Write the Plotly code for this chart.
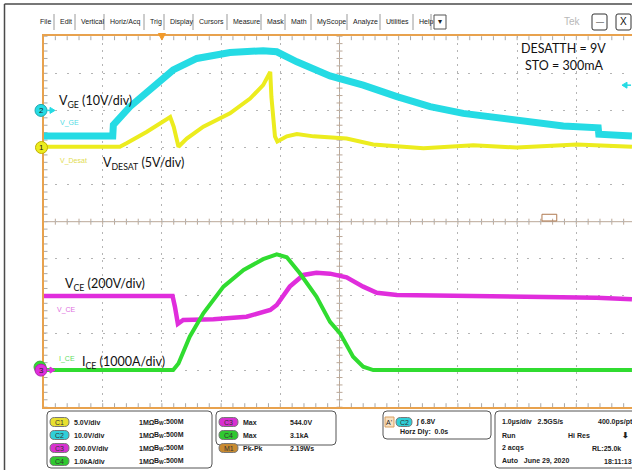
import plotly.graph_objects as go

# ---------------- data ----------------
# time axis in microseconds, relative to the trigger point
t_vge = [-2.0, -0.83, -0.82, -0.54, 0.19, 0.59, 1.15, 1.71, 1.94, 2.28, 2.84, 3.40, 3.97, 4.53,
         5.09, 5.66, 6.22, 6.78, 7.37, 7.38, 7.94]
v_vge = [-6.9, -6.9, -3.9, 1.0, 10.9, 14.0, 15.6, 16.1, 15.8, 13.1, 9.3, 6.8, 3.7, 1.0,
         -0.8, -2.1, -3.3, -4.2, -4.7, -6.4, -6.9]

t_desat = [-2.0, -0.71, -0.59, -0.26, 0.14, 0.20, 0.28, 0.42, 0.70, 1.15, 1.49, 1.71, 1.83, 1.85,
           1.91, 1.95, 2.11, 2.28, 2.56, 2.84, 3.12, 3.57, 4.42, 5.26, 5.99, 7.01, 7.94]
v_desat = [0.1, 0.1, 0.6, 2.1, 4.1, 2.8, 0.1, 1.2, 2.8, 4.6, 6.6, 8.4, 10.2, 6.8,
           1.5, 0.8, 1.5, 1.8, 1.5, 1.4, 1.2, 0.4, -0.1, 0.3, 0.0, 0.4, 0.1]

t_vce = [-2.0, 0.18, 0.22, 0.27, 0.36, 0.87, 1.43, 1.83, 1.94, 2.16, 2.39, 2.61, 2.84, 3.12,
         3.40, 3.63, 3.97, 5.66, 7.34, 7.94]
v_vce = [400, 400, 342, 249, 270, 274, 288, 324, 351, 450, 513, 525, 520, 500,
         450, 417, 405, 400, 390, 382]

t_ice = [-2.0, 0.19, 0.28, 0.47, 0.70, 1.04, 1.38, 1.71, 1.94, 2.11, 2.33, 2.61, 2.84, 3.01,
         3.23, 3.40, 3.57, 7.94]
i_ice = [0, 0, 180, 900, 1530, 2250, 2700, 2990, 3120, 3040, 2610, 1980, 1300, 990,
         360, 90, 0, 0]

# channel settings: C1 V_DESAT, C2 V_GE, C3 V_CE, C4 I_CE
ch_names = ["V_Desat", "V_GE", "V_CE", "I_CE"]
ch_scale = [5.0, 10.0, 200.0, 1000.0]      # units per division
ch_offset = [2, 3, -4, -4]                 # ground position in divisions
trig_level_c2 = 6.8

menu_items = ["File", "Edit", "Vertical", "Horiz/Acq", "Trig", "Display", "Cursors", "Measure",
              "Mask", "Math", "MyScope", "Analyze", "Utilities", "Help"]

# ---------------- geometry ----------------
W, H = 632, 470
PX_LEFT, DIVX = 43.5, 59.2
CY, DIVY = 221.7, 37.1
PX_TOP, PX_BOT = CY - 5 * DIVY, CY + 5 * DIVY

def px(x):
    return x / W

def py(y):
    return 1 - y / H

def tpx(t):
    return PX_LEFT + (t + 2) * DIVX

def dpy(d):
    return CY - d * DIVY

def chpy(k, v):
    return dpy(v / ch_scale[k] + ch_offset[k])

ORANGE = "#e8a24e"
CYAN = "#25dbe4"
YELLOW = "#ecec1e"
MAGENTA = "#e02ddc"
GREEN = "#30dc30"
GRID = "#b4b4b4"
TICK = "#a8a8a8"
CROSS = "#bba898"
colors = [YELLOW, CYAN, MAGENTA, GREEN]
label_colors = ["#e2dc50", "#50dbe4", "#e070e0", "#60dc60"]

x_range = [-2, -2 + (W - PX_LEFT) / DIVX]
y_dom = [py(PX_BOT), py(PX_TOP)]
x_dom = [px(PX_LEFT), 1.0]

fig = go.Figure()

series = [(t_desat, v_desat), (t_vge, v_vge), (t_vce, v_vce), (t_ice, i_ice)]
widths = [4, 7, 4.5, 4]
for k, (tt, vv) in enumerate(series):
    fig.add_trace(go.Scatter(x=tt, y=vv, mode="lines", yaxis="y%d" % (k + 2),
                             line=dict(color=colors[k], width=widths[k]),
                             hoverinfo="skip", showlegend=False))

layout = dict(
    width=W, height=H, margin=dict(l=0, r=0, t=0, b=0),
    paper_bgcolor="white", plot_bgcolor="white", showlegend=False,
    xaxis=dict(domain=x_dom, range=x_range, tick0=0, dtick=1, showgrid=True,
               gridcolor=GRID, griddash="2px,5px", gridwidth=1, zeroline=False,
               showline=True, linecolor=ORANGE, linewidth=2, mirror=True,
               ticks="", showticklabels=False),
    yaxis=dict(domain=y_dom, range=[-5, 5], tick0=0, dtick=1, showgrid=True,
               gridcolor=GRID, griddash="2px,9.8px", gridwidth=1, zeroline=False,
               showline=True, linecolor=ORANGE, linewidth=2,
               ticks="", showticklabels=False),
)
for k in range(4):
    lo = (-5 - ch_offset[k]) * ch_scale[k]
    hi = (5 - ch_offset[k]) * ch_scale[k]
    layout["yaxis%d" % (k + 2)] = dict(overlaying="y", anchor="x", range=[lo, hi],
                                       showgrid=False, zeroline=False, showline=False,
                                       showticklabels=False, ticks="")
fig.update_layout(**layout)

shapes = []
ann = []

def L(x0, y0, x1, y1, color, width=1, layer="below"):
    shapes.append(dict(type="line", xref="paper", yref="paper", x0=px(x0), x1=px(x1),
                       y0=py(y0), y1=py(y1), line=dict(color=color, width=width), layer=layer))

def tri(points, color):
    p = "M " + " L ".join("%f,%f" % (px(a), py(b)) for a, b in points) + " Z"
    shapes.append(dict(type="path", xref="paper", yref="paper", path=p, fillcolor=color,
                       line=dict(color=color, width=1)))

# graticule ticks: border (inside) and centre crosshair
n_x = int(round((x_range[1] - x_range[0]) / 0.2))
for i in range(n_x + 1):
    xx = tpx(x_range[0] + 0.2 * i)
    if xx > W:
        break
    L(xx, PX_TOP, xx, PX_TOP + 4, TICK)
    L(xx, PX_BOT, xx, PX_BOT - 4, TICK)
    L(xx, CY - 3, xx, CY + 3, CROSS)
for i in range(51):
    yy = dpy(-5 + 0.2 * i)
    L(PX_LEFT, yy, PX_LEFT + 4, yy, TICK)
    L(tpx(3) - 3, yy, tpx(3) + 3, yy, CROSS)
L(PX_LEFT, CY, W, CY, CROSS)
L(tpx(3), PX_TOP, tpx(3), PX_BOT, CROSS)

def A(x, y, text, size=7, color="#222", xanchor="left", font="Liberation Sans", **kw):
    d = dict(x=px(x), y=py(y), xref="paper", yref="paper", text=text, showarrow=False,
             xanchor=xanchor, yanchor="middle", font=dict(size=size, color=color, family=font))
    d.update(kw)
    ann.append(d)

def rrect(x0, y0, x1, y1, r, line="#555", fill=None, width=1):
    p = ("M {a},{b} L {c},{b} Q {x1},{b} {x1},{d} L {x1},{e} Q {x1},{f} {c},{f} "
         "L {a},{f} Q {x0},{f} {x0},{e} L {x0},{d} Q {x0},{b} {a},{b} Z").format(
        a=px(x0 + r), c=px(x1 - r), b=py(y0), d=py(y0 + r), e=py(y1 - r), f=py(y1),
        x0=px(x0), x1=px(x1))
    s = dict(type="path", path=p, xref="paper", yref="paper",
             line=dict(color=line, width=width))
    if fill:
        s["fillcolor"] = fill
    shapes.append(s)

# outer frame
L(4.5, 4, 4.5, H, "#4a4a4a", 1.5, "above")
L(4.5, 4, W, 4, "#4a4a4a", 1.5, "above")

# menu bar
menu_x = [38, 58, 79, 108, 148, 168, 197, 231, 265, 289, 315, 351, 384, 417]
for name, x in zip(menu_items, menu_x):
    A(x, 22, name, size=7)
for k in range(len(menu_x)):
    xs = menu_x[k + 1] - 4 if k + 1 < len(menu_x) else 431
    L(xs, 14, xs, 30, "#9a9a9a")
shapes.append(dict(type="rect", xref="paper", yref="paper", x0=px(434), x1=px(446), y0=py(15),
                   y1=py(29), line=dict(color="#555", width=1)))
A(440, 22, "▾", size=8, xanchor="center")
A(572, 22, "Tek", size=10, color="#b8b8b8", xanchor="center")
rrect(592, 14, 607, 30, 2, line="#333")
rrect(616, 14, 631, 30, 2, line="#333")
A(599.5, 22, "—", size=8, xanchor="center", color="#111")
A(623.5, 22, "X", size=10, xanchor="center", color="#111")

# waveform labels
LF = "Lato"
A(57, 101, "V<sub>GE</sub> (10V/div)", size=12.5, font=LF, color="#111")
A(101, 163, "V<sub>DESAT</sub> (5V/div)", size=12.5, font=LF, color="#111")
A(63, 284, "V<sub>CE</sub> (200V/div)", size=12.5, font=LF, color="#111")
A(80, 362, "I<sub>CE</sub> (1000A/div)", size=12.5, font=LF, color="#111")
A(563, 48, "DESATTH = 9V", size=12.5, font=LF, color="#111", xanchor="center")
A(564, 65, "STO = 300mA", size=12.5, font=LF, color="#111", xanchor="center")

# small channel labels
A(58, 123, "V_GE", size=7, color=label_colors[1])
A(58, 161, "V_Desat", size=7, color=label_colors[0])
A(55, 310, "V_CE", size=7, color=label_colors[2])
A(57, 359, "I_CE", size=7, color=label_colors[3])

# channel ground markers (at 0 on each channel's scale)
def ground_marker(k, xpix, label, dy=0, outline="#888"):
    yc = chpy(k, 0) + dy
    shapes.append(dict(type="circle", xref="paper", yref="paper",
                       x0=px(xpix - 6), x1=px(xpix + 6), y0=py(yc + 6), y1=py(yc - 6),
                       fillcolor=colors[k], line=dict(color=outline, width=1)))
    if label:
        A(xpix, yc, label, size=8, xanchor="center", color="#222")

ground_marker(3, 40, "", dy=-3, outline="#40b040")
ground_marker(2, 41, "3", outline="#b020b0")
ground_marker(1, 41, "2", outline="#20a8b0")
ground_marker(0, 41.5, "1", outline="#c0b000")

# ground arrows for C2 and C3
for k, c in [(1, CYAN), (2, MAGENTA)]:
    yc = chpy(k, 0)
    L(47, yc, 51, yc, c, 1.5, "above")
    tri([(50, yc - 3), (55, yc), (50, yc + 3)], c)
# trigger level indicator for C2 (right edge)
yt = chpy(1, trig_level_c2)
L(626, yt, 631, yt, CYAN, 1.5, "above")
tri([(627, yt - 3), (622, yt), (627, yt + 3)], CYAN)
# trigger position marker (t = 0)
tx = tpx(0)
tri([(tx - 3.5, 33.5), (tx + 3.5, 33.5), (tx, 40)], "#f29a2a")
# horizontal reference box
shapes.append(dict(type="rect", xref="x", yref="y", x0=6.42, x1=6.67, y0=0.02, y1=0.2,
                   line=dict(color="#b07a50", width=1)))

# ---------------- bottom panel ----------------
rrect(47, 411, 212, 468, 4)
rrect(216, 411, 336, 445, 4)
rrect(383, 411, 491, 439, 4)
rrect(495, 411, 640, 468, 4)

rows = [422, 435, 448, 461]
ch_txt = ["5.0V/div", "10.0V/div", "200.0V/div", "1.0kA/div"]
pill_fill = ["#e8e030", "#30d0d8", "#d830d0", "#30c830"]
for k in range(4):
    rrect(50, rows[k] - 4.5, 69, rows[k] + 4.5, 4.5, line="#777", fill=pill_fill[k])
    A(59.5, rows[k], "C%d" % (k + 1), size=7, xanchor="center", color="#333")
    A(72, rows[k], "<b>%s</b>" % ch_txt[k], size=7)
    A(137, rows[k], "<b>1MΩ</b>", size=7)
    A(152, rows[k], "<b>B<sub>W</sub>:500M</b>", size=7)

meas = [("C3", "#d830d0", "Max", "544.0V"), ("C4", "#30c830", "Max", "3.1kA"),
        ("M1", "#c88a30", "Pk-Pk", "2.19Ws")]
for k, (c, f, m, v) in enumerate(meas):
    rrect(219, rows[k] - 4.5, 238, rows[k] + 4.5, 4.5, line="#777", fill=f)
    A(228.5, rows[k], c, size=7, xanchor="center", color="#333")
    A(241, rows[k], "<b>%s</b>" % m, size=7)
    A(288, rows[k], "<b>%s</b>" % v, size=7)

shapes.append(dict(type="rect", xref="paper", yref="paper", x0=px(385), x1=px(394), y0=py(427),
                   y1=py(417), line=dict(color="#d8a060", width=1), fillcolor="#f8e0c0"))
A(389.5, 422, "A'", size=7, xanchor="center")
rrect(396, 417.5, 412, 426.5, 4.5, line="#777", fill="#30d0d8")
A(404, 422, "C2", size=7, xanchor="center", color="#333")
A(414, 422, "<b>∫ 6.8V</b>", size=7)
A(398, 432, "<b>Horz Dly:  0.0s</b>", size=7)

A(500, rows[0], "<b>1.0µs/div   2.5GS/s</b>", size=7)
A(596, rows[0], "<b>400.0ps/pt</b>", size=7)
A(500, rows[1], "<b>Run</b>", size=7)
A(566, rows[1], "<b>Hi Res</b>", size=7)
A(620, rows[1], "<b>⬇</b>", size=8)
A(500, rows[2], "<b>2 acqs</b>", size=7)
A(590, rows[2], "<b>RL:25.0k</b>", size=7)
A(500, rows[3], "<b>Auto   June 29, 2020</b>", size=7)
A(602, rows[3], "<b>18:11:13</b>", size=7)

fig.update_layout(shapes=shapes, annotations=ann)
fig.write_html("out.html", config={"displayModeBar": False},
               post_script="document.body.style.margin='0';document.body.style.overflow='hidden';")
